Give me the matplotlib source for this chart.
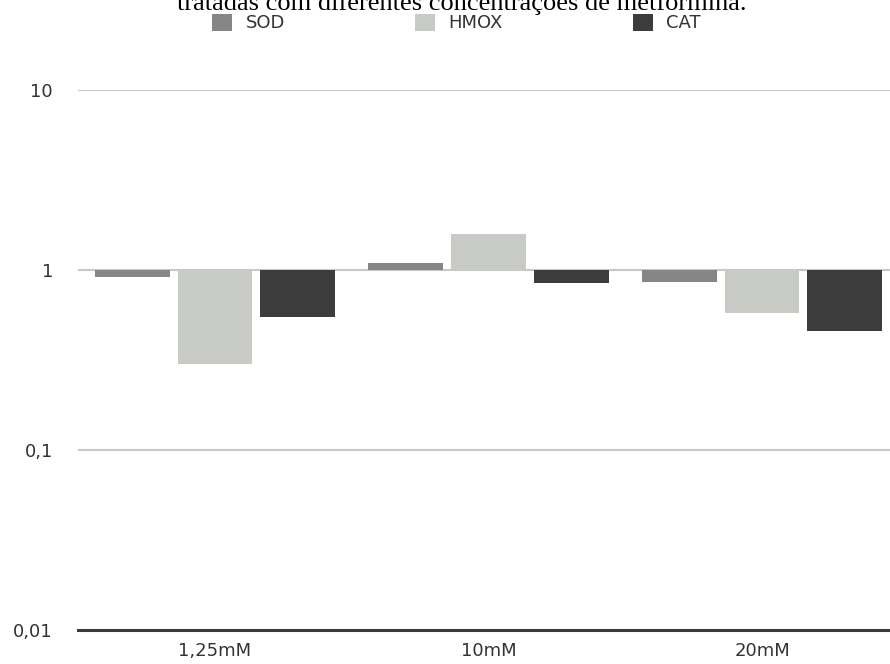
import numpy as np
import matplotlib
matplotlib.use('Agg')
import matplotlib.pyplot as plt

plt.rcParams['font.family'] = ['DejaVu Sans']

# dados (fold change em relação ao controle)
concentracoes = ['1,25mM', '10mM', '20mM']
sod = [0.92, 1.09, 0.86]
hmox = [0.30, 1.58, 0.58]
cat = [0.55, 0.85, 0.46]
series = ['SOD', 'HMOX', 'CAT']
cores = ['#868686', '#c8cac6', '#3c3c3c']
yticks = [0.01, 0.1, 1, 10]
ytick_labels = ['0,01', '0,1', '1', '10']

fig = plt.figure(figsize=(8.9, 6.64), dpi=100)
ax = fig.add_axes([78 / 890, 1 - 630 / 664, 1 - 78 / 890, 540 / 664])

x = np.arange(len(concentracoes))
largura = 0.274
passo = 0.303
handles = []
for i, (nome, vals, cor) in enumerate(zip(series, [sod, hmox, cat], cores)):
    vals = np.array(vals)
    b = ax.bar(x + (i - 1) * passo, vals - 1, bottom=1, width=largura,
               color=cor, label=nome, zorder=3)
    handles.append(b)

ax.set_yscale('log')
ax.set_ylim(0.01, 10)
ax.set_xlim(-0.501, 2.468)
ax.set_yticks(yticks)
ax.set_yticklabels(ytick_labels)
ax.yaxis.set_minor_locator(matplotlib.ticker.NullLocator())
ax.set_xticks(x)
ax.set_xticklabels(concentracoes)
ax.tick_params(axis='both', length=0, labelsize=13, colors='#333333')
ax.tick_params(axis='x', pad=9)
ax.tick_params(axis='y', pad=18)

for v in [0.1, 1, 10]:
    ax.axhline(v, color='#c8c8c8', lw=1.5, zorder=1)

for s in ['top', 'right', 'left']:
    ax.spines[s].set_visible(False)
ax.spines['bottom'].set_color('#3a3a3a')
ax.spines['bottom'].set_linewidth(2.2)

fig.text(462 / 890, 1 - 10 / 664, 'tratadas com diferentes concentrações de metformina.',
         ha='center', va='baseline', fontsize=19, family='Liberation Serif')

fig.legend(handles=handles, labels=series, loc='center',
           bbox_to_anchor=(0.513, 1 - 23 / 664), ncol=3, frameon=False,
           fontsize=13, handlelength=1.1, handleheight=1.1,
           handletextpad=0.75, columnspacing=7.2, labelcolor='#333333',
           borderpad=0)

fig.savefig('out.png', dpi=100)
